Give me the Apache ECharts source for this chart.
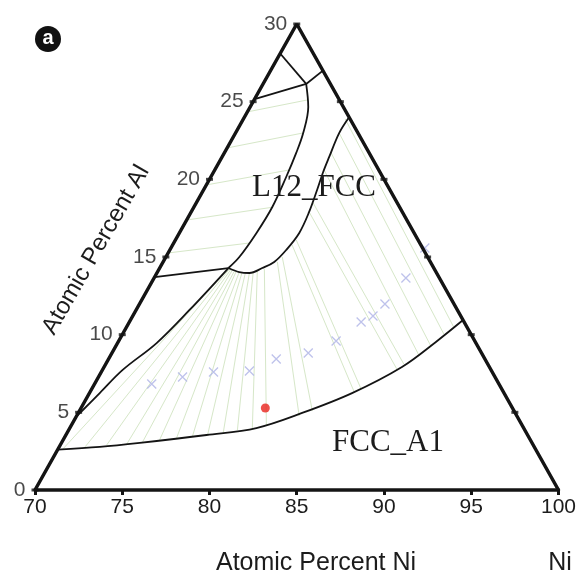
<!DOCTYPE html>
<html>
<head>
<meta charset="utf-8">
<script src="https://cdn.jsdelivr.net/npm/echarts@6/dist/echarts.min.js"></script>
<style>
  html, body { margin: 0; padding: 0; background: #ffffff; }
  #chart { width: 579px; height: 579px; }
</style>
</head>
<body>
<div id="chart"></div>
<script>
// Isothermal section of the Ni-rich corner: compositions given as [at.% Ni, at.% Al]
const niTicks = [70, 75, 80, 85, 90, 95, 100];
const alTicks = [0, 5, 10, 15, 20, 25, 30];

// Phase boundaries
const boundTopLeft  = [[70.0, 28.1], [72.47, 26.14]];
const boundTopRight = [[72.47, 26.14], [73.0, 27.0]];
const boundTieUpper = [[72.47, 26.14], [70.0, 25.17]];
const l12Left = [[72.47, 26.14], [73.33, 24.66], [73.88, 22.98], [74.12, 21.70], [74.32, 20.15],
                 [74.49, 18.22], [74.42, 16.55], [74.21, 15.0], [73.94, 14.29]];
const boundTieLower = [[73.94, 14.29], [70.0, 13.71]];
const l12Right = [[73.94, 14.29], [74.69, 14.03], [75.30, 13.97], [75.88, 14.29], [76.37, 14.68],
                  [76.67, 15.45], [76.87, 16.55], [76.76, 17.90], [76.51, 19.31], [76.28, 20.47],
                  [76.14, 21.44], [75.94, 22.98], [76.0, 24.0]];
const gammaPrimeLow = [[73.94, 14.29], [73.06, 11.59], [72.24, 9.46], [71.16, 7.73], [70.59, 6.24],
                       [70.17, 5.15], [70.0, 4.70]];
const fccA1 = [[70.0, 2.6], [72.33, 2.77], [74.49, 3.03], [78.06, 3.54], [80.69, 3.99], [82.83, 4.96],
               [85.05, 6.24], [87.07, 7.92], [88.21, 9.53], [89.06, 10.94]];

// Tie-lines: upper two-phase field (left edge -> L12 boundary)
const tieUpperStart = [[70.0, 24.34], [70.0, 22.02], [70.0, 19.64], [70.0, 17.38], [70.0, 15.26]];
const tieUpperEnd   = [[73.05, 25.11], [73.85, 22.98], [74.26, 20.6], [74.49, 18.2], [74.33, 15.9]];

// Tie-lines: lower two-phase field (L12 boundary -> FCC_A1 boundary)
const tieLowerStart = [[73.98, 14.23], [74.03, 14.23], [74.12, 14.16], [74.23, 14.16], [74.38, 14.10],
                       [74.49, 14.10], [74.69, 14.03], [74.86, 14.03], [75.07, 13.97], [75.30, 13.97],
                       [75.49, 14.03], [75.69, 14.10], [76.03, 14.23],
                       [76.55, 14.68], [76.67, 15.0], [76.85, 15.77], [76.92, 16.10], [76.76, 17.90],
                       [76.70, 18.48], [76.27, 20.60], [76.12, 21.70], [75.94, 22.98], [75.83, 23.89]];
const tieLowerEnd   = [[70.28, 2.64], [71.48, 2.77], [72.66, 2.90], [73.78, 2.96], [74.62, 3.09],
                       [75.53, 3.22], [76.44, 3.35], [77.29, 3.48], [78.12, 3.54], [78.93, 3.73],
                       [79.67, 3.86], [80.46, 3.99], [81.17, 4.18],
                       [82.76, 4.76], [83.35, 5.09], [85.14, 6.31], [85.44, 6.50], [86.84, 7.79],
                       [87.08, 8.11], [87.65, 8.69], [88.05, 9.27], [88.41, 10.04], [88.75, 10.49]];

// Calculated alloy compositions (crosses) and the measured alloy (red dot)
const alloyNi = [73.28, 74.82, 76.43, 78.46, 79.61, 81.25, 82.46, 83.28, 83.77, 84.07, 84.43, 84.55];
const alloyAl = [6.82, 7.27, 7.60, 7.66, 8.43, 8.82, 9.59, 10.82, 11.20, 11.97, 13.65, 15.58];
const measured = [[80.56, 5.28]];

// Map a composition onto the triangle's cartesian frame (x = Ni-70 + Al/2, y = Al)
const toXY = p => [p[0] - 70 + p[1] / 2, p[1]];
const path = pts => pts.map(toXY);

const black = '#141414';
const textColor = '#1c1c1c';
const tieColor = '#d6e7c8';
const sans = 'Liberation Sans, Arial';

function curve(name, pts, smooth) {
  return {
    name, type: 'line', data: path(pts), smooth: smooth ? 0.35 : false,
    symbol: 'none', silent: true, z: 4,
    lineStyle: { color: black, width: 1.8 }
  };
}

const ties = [];
tieUpperStart.forEach((s, i) => ties.push({ coords: [toXY(s), toXY(tieUpperEnd[i])] }));
tieLowerStart.forEach((s, i) => ties.push({ coords: [toXY(s), toXY(tieLowerEnd[i])] }));

const leftEdge = alTicks.map(a => toXY([70, a]));
const rightEdge = alTicks.filter(a => a > 0 && a < 30).map(a => toXY([100 - a, a]));

const chart = echarts.init(document.getElementById('chart'), null, { renderer: 'canvas' });
chart.setOption({
  animation: false,
  backgroundColor: '#ffffff',
  grid: { left: 35, top: 24, width: 525, height: 466 },
  xAxis: {
    type: 'value', min: 0, max: 30, interval: 5,
    axisLine: { show: true, lineStyle: { color: black, width: 3.5 } },
    axisTick: { show: true, length: 5, lineStyle: { color: black, width: 3 } },
    axisLabel: { margin: 7, color: textColor, fontSize: 21, fontFamily: sans,
                 formatter: v => String(niTicks[Math.round(v / 5)]) },
    splitLine: { show: false }
  },
  yAxis: { type: 'value', min: 0, max: 30, show: false },
  series: [
    { type: 'lines', coordinateSystem: 'cartesian2d', silent: true, z: 2,
      lineStyle: { color: tieColor, width: 1, opacity: 1 }, data: ties },
    curve('top-left', boundTopLeft, false),
    curve('top-right', boundTopRight, false),
    curve('upper tie', boundTieUpper, false),
    curve('L12 left', l12Left, true),
    curve('lower tie', boundTieLower, false),
    curve('L12 right', l12Right, true),
    curve('gamma prime', gammaPrimeLow, true),
    curve('FCC_A1', fccA1, true),
    { type: 'line', data: [toXY([70, 0]), toXY([70, 30]), toXY([100, 0])], symbol: 'none',
      silent: true, z: 6, lineStyle: { color: black, width: 3.5 } },
    { type: 'scatter', data: leftEdge, symbol: 'rect', symbolSize: [7, 3], z: 7, silent: true,
      itemStyle: { color: black },
      label: { show: true, position: 'left', distance: 6, color: textColor, fontSize: 21,
               fontFamily: sans, formatter: p => String(alTicks[p.dataIndex]) } },
    { type: 'scatter', data: rightEdge, symbol: 'rect', symbolSize: [7, 3], z: 7, silent: true,
      itemStyle: { color: black } },
    { type: 'scatter', data: alloyNi.map((n, i) => toXY([n, alloyAl[i]])), z: 5, silent: true,
      symbol: 'path://M0,0L10,10M10,0L0,10', symbolSize: 9,
      itemStyle: { color: 'rgba(0,0,0,0)', borderColor: '#aeb3e6', borderWidth: 1.3 } },
    { type: 'scatter', data: path(measured), symbol: 'circle', symbolSize: 9, z: 5, silent: true,
      itemStyle: { color: '#e8231c' } }
  ],
  graphic: [
    { type: 'circle', shape: { cx: 48, cy: 39, r: 13 }, style: { fill: '#111' } },
    { type: 'text', x: 48, y: 38, style: { text: 'a', fill: '#fff', font: 'bold 20px Liberation Sans, Arial',
      align: 'center', verticalAlign: 'middle' } },
    { type: 'text', x: 96, y: 250, rotation: 60 * Math.PI / 180,
      style: { text: 'Atomic Percent Al', fill: textColor, font: '24px Liberation Sans, Arial',
               align: 'center', verticalAlign: 'middle' } },
    { type: 'text', x: 316, y: 563, style: { text: 'Atomic Percent Ni', fill: textColor,
      font: '25px Liberation Sans, Arial', align: 'center', verticalAlign: 'middle' } },
    { type: 'text', x: 560, y: 563, style: { text: 'Ni', fill: textColor,
      font: '25px Liberation Sans, Arial', align: 'center', verticalAlign: 'middle' } },
    { type: 'text', x: 314, y: 188, z: 10, style: { text: 'L12_FCC', fill: textColor,
      font: '31px Liberation Serif, Times New Roman', align: 'center', verticalAlign: 'middle' } },
    { type: 'text', x: 388, y: 443, z: 10, style: { text: 'FCC_A1', fill: textColor,
      font: '31px Liberation Serif, Times New Roman', align: 'center', verticalAlign: 'middle' } }
  ]
});
</script>
</body>
</html>
